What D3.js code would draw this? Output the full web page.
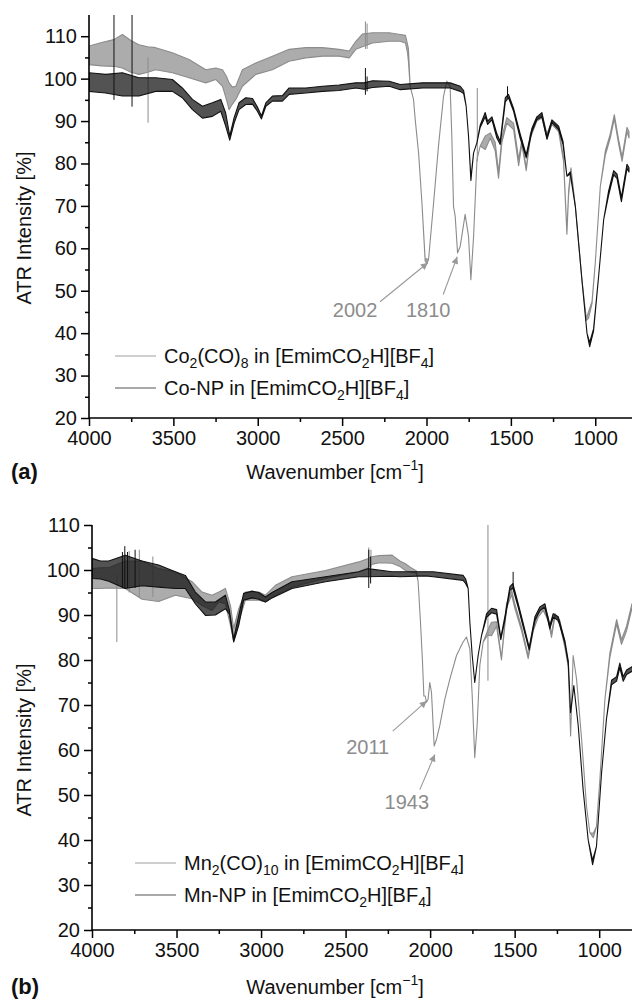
<!DOCTYPE html>
<html>
<head>
<meta charset="utf-8">
<script src="https://cdn.jsdelivr.net/npm/d3@7"></script>
<style>
body { margin: 0; background: #fff; }
text { font-family: Arial, "Liberation Sans", sans-serif; }
</style>
</head>
<body>
<div id="chart"></div>
<script>
// ---- data: [wavenumber, low, high] envelope of each (noisy) trace ----
var coCarbonyl = [[4000,103.3,107.7],[3925,103,108.5],[3853,102.9,109.2],[3802,102.5,110.4],[3752,101.5,109],[3704,101,108],
  [3652,101.5,107.5],[3605,102.1,107.3],[3506,101.4,106.1],[3407,100.2,104.5],[3308,99,102.1],[3249,99.8,102.5],[3209,98.2,102.1],
  [3185,95,100.5],[3170,92.7,99],[3150,94,98],[3130,95.1,98.2],[3091,98.2,102.1],[3012,101,103.7],[2913,102.1,105.3],
  [2814,104.1,106.9],[2715,104.9,107.3],[2616,105.3,107.3],[2518,105.3,106.9],[2458,104.9,106.5],[2419,106.9,108.8],
  [2380,107.5,110.5],[2320,108.4,110.8],[2221,108.8,110.8],[2156,108.8,110.4],[2125,108.4,110.2],[2112,106,108],[2107,104,107],
  [2097,98.2,98.2],[2077,95.1,95.1],[2067,90.4,90.4],[2047,82.5,82.5],[2027,70.7,70.7],[2008,57,57.5],[1998,56.5,57.5],
  [1988,57.3,57.3],[1958,70.7,70.7],[1929,84.1,84.1],[1899,95.9,95.9],[1879,99.4,99.4],[1860,98.2,98.2],[1850,86.5,86.5],
  [1840,69.9,69.9],[1830,67.6,67.6],[1816,58.9,58.9],[1800,60.5,60.5],[1771,68,68],[1751,62.8,62.8],[1737,52.6,52.6],
  [1721,62.8,62.8],[1701,80.9,80.9],[1682,84.1,84.1],[1652,83.3,86.5],[1622,86,87.2],[1593,83,85],[1573,76.5,78],
  [1553,85,86.2],[1524,89.5,90.8],[1484,88,89.5],[1454,79.5,81],[1435,84.5,85.5],[1409,78.3,79],[1385,86,87],[1346,90,90.8],
  [1316,90.7,91.5],[1286,86,87],[1257,89.2,90],[1217,87.5,88.5],[1188,80.5,81.3],[1168,63.3,64],[1158,72.5,73.5],
  [1144,78.2,79],[1118,69.9,69.9],[1079,52.6,52.6],[1053,43,43.5],[1040,43.5,45],[1019,47,47.5],[1000,56.5,56.5],
  [970,74.6,74.6],[940,82,83],[911,86,87],[887,90.5,91.5],[861,84.5,85.5],[841,80.5,81.5],[812,87.5,88.5],[800,86,87.5]];
var coParticles = [[4000,97,101.4],[3950,96.8,101.2],[3901,96.6,101],[3802,95.9,101.4],[3704,95.9,100.2],[3605,97,100.2],
  [3506,97,99.8],[3447,95.5,97.8],[3387,92.7,95.1],[3328,90.7,93.5],[3269,91.1,94.3],[3219,92.3,95.1],[3190,88.8,91.9],
  [3166,85.5,86.5],[3140,89.5,90.8],[3111,92.7,94.3],[3071,93.9,95.5],[3031,94,95.3],[3002,92.3,93.3],[2978,90.5,91.2],
  [2952,93.5,94.3],[2913,94.7,95.9],[2854,94.7,96],[2814,96.3,97.8],[2715,96.6,97.8],[2616,97,98.2],[2518,97.2,98.5],
  [2419,97.8,99],[2370,97.5,99],[2320,97.9,99.5],[2221,98.2,99.4],[2156,97.4,98.6],[2023,97.8,99],[1958,97.8,99],
  [1860,97.8,99],[1800,97,98.2],[1780,96.5,97.2],[1765,93.5,93.5],[1751,86.5,86.5],[1737,76,76.5],[1721,82.5,82.5],
  [1701,84.9,84.9],[1682,88.5,89],[1652,91,92],[1638,89.2,90],[1612,90.3,91],[1583,86,87],[1563,84.5,85.2],[1533,94.5,95.5],
  [1514,95.5,96.3],[1484,92.3,93],[1445,86,87],[1409,81.3,82],[1375,87.5,88.3],[1346,90.3,91],[1316,91,92],[1286,85.7,86.3],
  [1257,89.7,90.3],[1217,88,88.8],[1191,84.5,85.2],[1168,77,77],[1148,77.5,78],[1118,69.9,69.9],[1079,52.6,52.6],
  [1049,40,40],[1033,36.8,37.8],[1010,40.5,41],[980,53.4,53.4],[950,66.8,66.8],[921,72.5,73.5],[891,77.3,78.3],
  [871,76.5,77.5],[845,71,72],[812,78.8,79.8],[800,78,79]];
var mnCarbonyl = [[4000,95.9,100.3],[3950,95.9,100.5],[3901,96,100.5],[3803,95.9,102],[3704,93.5,102],[3606,93,100.3],
  [3507,94.4,99.6],[3408,93.6,97.4],[3349,92.1,95.1],[3290,91,94.4],[3250,92.9,95.1],[3211,92.5,95.9],[3181,87.7,92.1],
  [3162,84.2,87],[3132,88.4,91.4],[3093,93.3,95.1],[3014,93.3,95.1],[2974,92.9,94.4],[2915,94.4,96.6],[2817,96.2,98.5],
  [2619,98.1,99.9],[2422,99.6,101.8],[2370,100.5,102.5],[2340,101.3,103],[2300,101.6,103.2],[2225,101.5,103.3],
  [2179,100.8,102],[2146,99.9,101.4],[2120,99.6,100.7],[2081,99.3,99.8],[2071,97.4,97.4],[2057,88.4,88.4],[2045,79.5,79.5],
  [2037,72,72],[2029,72,72],[2022,70.6,70.6],[2012,71.3,71.3],[2002,75,75],[1992,72.8,72.8],[1976,60.9,60.9],
  [1962,62.4,62.4],[1943,65.4,65.4],[1913,71.3,71.3],[1883,75.8,75.8],[1844,81,81],[1805,84,84],[1785,85.1,85.1],
  [1765,82.5,82.5],[1751,72,72],[1736,58.3,58.3],[1722,65.4,65.4],[1706,78.8,78.8],[1686,84,84],[1660,85.5,86.5],
  [1637,85.4,88.4],[1607,87.5,88.5],[1578,80,80.5],[1548,91.5,92.5],[1518,94.5,95.5],[1499,91.5,92.5],[1459,86.5,87.3],
  [1420,80.3,81],[1390,86.5,87.3],[1361,89.5,90.3],[1331,91,91.8],[1302,88.8,89.6],[1282,85,85.8],[1262,89.5,90.3],
  [1233,88,88.8],[1203,82.8,83.5],[1183,78.5,79.2],[1169,63.1,63.1],[1154,81,81],[1134,75.8,75.8],[1104,62.4,62.4],
  [1075,47.5,47.5],[1055,41.6,41.6],[1035,40.5,41.5],[1016,43,43],[996,53.4,53.4],[966,71.3,71.3],[937,80.5,81.5],
  [897,88,89],[868,83.5,84.5],[838,86.5,87.5],[806,91.5,92.5],[800,91.5,92.5]];
var mnParticles = [[4000,98.1,102.6],[3950,98,102],[3901,97.5,102],[3803,95.9,103.3],[3704,96.5,102],[3606,96.2,101.1],
  [3507,95.9,99.6],[3448,95.9,98.8],[3389,92.5,95.1],[3329,89.9,92.9],[3270,90,92.9],[3211,91.4,94.4],[3187,90.2,91],
  [3162,84,84.7],[3132,87.7,89.9],[3103,93.3,94.8],[3053,93.8,95.3],[3014,93.5,95],[2974,92.9,94],[2935,93.8,95],
  [2817,95.9,97.4],[2619,97.4,98.5],[2422,98.5,99.6],[2370,98.5,100.3],[2225,98.6,99.6],[2179,98.5,99.6],[2028,98.7,99.6],
  [1982,98.5,99.6],[1805,97.7,98.8],[1790,97,98],[1775,95.9,95.9],[1765,88.4,88.4],[1751,81,81],[1736,75,75],[1716,81,81],
  [1696,85.4,85.4],[1666,89.5,90.3],[1637,90.5,91.5],[1607,90.2,91.2],[1582,84.5,85],[1558,88.8,89.6],[1528,95.5,96.3],
  [1511,96,97],[1479,91.7,92.5],[1449,87.3,88.1],[1414,82.2,82.8],[1380,88.8,89.6],[1351,91,91.8],[1321,91.7,92.5],
  [1292,86.9,87.7],[1272,89.5,90.3],[1242,88.8,89.6],[1203,83.7,84.3],[1183,79.2,79.8],[1169,68.3,68.3],[1150,74.3,74.3],
  [1124,65.4,65.4],[1095,51.2,51.2],[1065,40,40],[1039,34.5,35.5],[1016,38.6,38.6],[986,54.9,54.9],[957,66.9,66.9],
  [927,74.5,75.5],[897,75.3,76.3],[878,78.3,79.3],[858,75.3,76.3],[838,76.8,77.8],[806,77.5,78.5],[800,77.5,78.5]];

// single-channel spikes: [wavenumber, low, high]
var coCarbonylSpikes = [[3650,89.6,105],[2362,107,113.5],[2352,107,113],[1699,80.5,97.8]];
var coParticleSpikes = [[3852,95,115],[3745,93.4,115],[2362,96.2,102.5],[2352,97,100.5],[1520,95.5,98.2]];
var mnCarbonylSpikes = [[3853,84,99],[3780,95,104.2],[3720,94,104.5],[3640,94,103],[2363,100,105],[2350,100.5,104.5],[1658,75.4,110]];
var mnParticleSpikes = [[3820,96,104],[3806,96,105.3],[3790,96,104],[3745,96,104.5],[2363,96,104.5],[2352,97,103],[1509,96,99.6]];

// annotations: label, label position [wn, value], arrow tail, arrow tip
var coPeaks = [["2002",[2423,43.9],[2275,47.4],[1992,56.6]], ["1810",[1990,43.9],[1901,49.1],[1818,58]]];
var mnPeaks = [["2011",[2369,59.1],[2221,64.2],[2020,70.9]], ["1943",[2138,46.8],[2061,51.2],[1972,59]]];

var xTicks = [4000, 3500, 3000, 2500, 2000, 1500, 1000];
var yTicks = [20, 30, 40, 50, 60, 70, 80, 90, 100, 110];

var GRAY = "#8c8c8c", BLACK = "#111";

var svg = d3.select("#chart").append("svg")
  .attr("width", 632)
  .attr("height", 1001);

var defs = svg.append("defs");
defs.append("marker")
  .attr("id", "arr")
  .attr("viewBox", "0 0 10 10")
  .attr("refX", 10).attr("refY", 5)
  .attr("markerWidth", 9).attr("markerHeight", 7)
  .attr("markerUnits", "userSpaceOnUse")
  .attr("orient", "auto")
  .append("path").attr("d", "M0,0L10,5L0,10z").attr("fill", "#999");

function panel(cfg) {
  var x = d3.scaleLinear().domain([4000, 800]).range([cfg.left, cfg.right]);
  var y = d3.scaleLinear().domain([20, cfg.yMax]).range([cfg.bottom, cfg.top]);
  var g = svg.append("g");

  var clipId = "clip" + cfg.id;
  defs.append("clipPath").attr("id", clipId).append("rect")
    .attr("x", cfg.left).attr("y", cfg.top - 1).attr("width", 632 - cfg.left).attr("height", cfg.bottom - cfg.top + 1);
  var plot = g.append("g").attr("clip-path", "url(#" + clipId + ")");

  var band = d3.area().x(function(d) { return x(d[0]); })
    .y0(function(d) { return y(d[1]); }).y1(function(d) { return y(d[2]); });

  cfg.series.forEach(function(s) {
    plot.append("path").datum(s.data)
      .attr("d", band)
      .attr("fill", s.color).attr("fill-opacity", 0.72)
      .attr("stroke", s.color).attr("stroke-width", 1.1).attr("stroke-linejoin", "round");
    plot.selectAll(null).data(s.spikes).enter().append("line")
      .attr("x1", function(d) { return x(d[0]); }).attr("x2", function(d) { return x(d[0]); })
      .attr("y1", function(d) { return y(d[1]); }).attr("y2", function(d) { return y(d[2]); })
      .attr("stroke", s.color).attr("stroke-width", 1);
  });

  // axes
  var xAxis = g.append("g").attr("transform", "translate(0," + cfg.bottom + ")")
    .call(d3.axisBottom(x).tickValues(xTicks).tickSize(8).tickPadding(5).tickFormat(d3.format("d")));
  g.append("g").attr("transform", "translate(0," + cfg.bottom + ")")
    .call(d3.axisBottom(x).tickValues(d3.range(3750, 800, -500)).tickSize(4).tickFormat(""))
    .select(".domain").remove();
  var yAxis = g.append("g").attr("transform", "translate(" + cfg.left + ",0)")
    .call(d3.axisLeft(y).tickValues(yTicks).tickSize(8).tickPadding(4));
  g.append("g").attr("transform", "translate(" + cfg.left + ",0)")
    .call(d3.axisLeft(y).tickValues(d3.range(25, cfg.yMax, 10)).tickSize(4).tickFormat(""))
    .select(".domain").remove();
  g.selectAll(".domain").attr("stroke-width", 1.6);
  xAxis.select(".domain").attr("d", "M" + cfg.left + ",0H632");
  yAxis.select(".domain").attr("d", "M0," + cfg.top + "V" + cfg.bottom);
  g.selectAll(".tick line").attr("stroke-width", 1.5);
  g.selectAll(".tick text").attr("font-size", 20).attr("fill", "#111")
    .style("font-family", "Arial, 'Liberation Sans', sans-serif");

  // axis titles
  g.append("text")
    .attr("transform", "translate(" + 31 + "," + cfg.yTitle + ") rotate(-90)")
    .attr("text-anchor", "middle").attr("font-size", 20).attr("fill", "#111")
    .text("ATR Intensity [%]");
  var xt = g.append("text").attr("x", 335).attr("y", cfg.xTitle)
    .attr("text-anchor", "middle").attr("font-size", 20).attr("fill", "#111");
  xt.append("tspan").text("Wavenumber [cm");
  xt.append("tspan").attr("font-size", 14).attr("dy", -9).text("\u22121");
  xt.append("tspan").attr("dy", 9).text("]");

  g.append("text").attr("x", 11).attr("y", cfg.xTitle)
    .attr("font-size", 22).attr("font-weight", "bold").attr("fill", "#111").text(cfg.label);

  // legend
  cfg.series.forEach(function(s, i) {
    var ly = cfg.legendY + i * 32;
    g.append("line").attr("x1", cfg.legendX).attr("x2", cfg.legendX + 41)
      .attr("y1", ly).attr("y2", ly).attr("stroke", s.legendColor).attr("stroke-width", 1.2);
    var t = g.append("text").attr("x", cfg.legendX + 49).attr("y", ly + 7)
      .attr("font-size", 20).attr("fill", "#111");
    var shift = 0;
    s.name.forEach(function(p) {
      if (typeof p === "string") {
        t.append("tspan").attr("dy", -shift).text(p);
        shift = 0;
      } else {
        t.append("tspan").attr("font-size", 14).attr("dy", 5).text(p.sub);
        shift = 5;
      }
    });
  });

  // peak annotations
  cfg.peaks.forEach(function(p) {
    g.append("line")
      .attr("x1", x(p[2][0])).attr("y1", y(p[2][1]))
      .attr("x2", x(p[3][0])).attr("y2", y(p[3][1]))
      .attr("stroke", "#999").attr("stroke-width", 1.1)
      .attr("marker-end", "url(#arr)");
    g.append("text").attr("x", x(p[1][0])).attr("y", y(p[1][1]))
      .attr("text-anchor", "middle").attr("font-size", 20).attr("fill", "#8c8c8c")
      .text(p[0]);
  });
}

panel({
  id: "a", left: 89, right: 629, top: 15, bottom: 418, yMax: 115,
  yTitle: 228, xTitle: 479, label: "(a)", legendX: 115, legendY: 356,
  peaks: coPeaks,
  series: [
    { data: coCarbonyl, spikes: coCarbonylSpikes, color: GRAY, legendColor: "#a0a0a0",
      name: ["Co", {sub: "2"}, "(CO)", {sub: "8"}, " in [EmimCO", {sub: "2"}, "H][BF", {sub: "4"}, "]"] },
    { data: coParticles, spikes: coParticleSpikes, color: BLACK, legendColor: "#555",
      name: ["Co-NP in [EmimCO", {sub: "2"}, "H][BF", {sub: "4"}, "]"] }
  ]
});

panel({
  id: "b", left: 92, right: 633, top: 525, bottom: 930, yMax: 110,
  yTitle: 740, xTitle: 994, label: "(b)", legendX: 135, legendY: 863,
  peaks: mnPeaks,
  series: [
    { data: mnCarbonyl, spikes: mnCarbonylSpikes, color: GRAY, legendColor: "#a0a0a0",
      name: ["Mn", {sub: "2"}, "(CO)", {sub: "10"}, " in [EmimCO", {sub: "2"}, "H][BF", {sub: "4"}, "]"] },
    { data: mnParticles, spikes: mnParticleSpikes, color: BLACK, legendColor: "#555",
      name: ["Mn-NP in [EmimCO", {sub: "2"}, "H][BF", {sub: "4"}, "]"] }
  ]
});
</script>
</body>
</html>
